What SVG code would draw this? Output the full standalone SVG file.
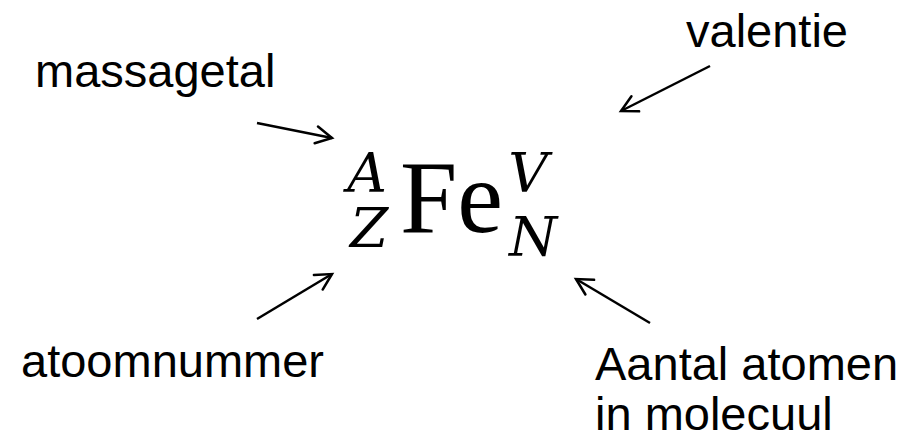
<svg xmlns="http://www.w3.org/2000/svg" width="910" height="440" viewBox="0 0 910 440">
<style>
.lbl{font-family:"Liberation Sans",Arial,sans-serif;font-size:47px;fill:#000}
.sym{font-family:"Liberation Serif","Times New Roman",serif;fill:#000}
.it{font-family:"DejaVu Serif",serif;font-style:italic;font-size:55px;fill:#000}
.arr{stroke:#000;stroke-width:2.5;fill:none;marker-end:url(#ah)}
</style>
<defs>
<marker id="ah" markerUnits="userSpaceOnUse" orient="auto" refX="0" refY="0" markerWidth="40" markerHeight="40" overflow="visible">
<path d="M-16,-8.5 L0,0 L-16,8.5" fill="none" stroke="#000" stroke-width="2.5" stroke-linecap="round" stroke-linejoin="miter"/>
</marker>
</defs>
<rect width="910" height="440" fill="#fff"/>
<g id="formula">
<text class="it" x="367" y="192" text-anchor="middle">A</text>
<text class="it" x="369" y="247" text-anchor="middle">Z</text>
<text class="sym" x="400" y="232" font-size="103">Fe</text>
<text class="it" x="528" y="192" text-anchor="middle">V</text>
<text class="it" x="533" y="256" text-anchor="middle">N</text>
</g>
<g id="massagetal"><text class="lbl" x="35" y="87">massagetal</text></g>
<g id="valentie"><text class="lbl" x="686" y="47">valentie</text></g>
<g id="atoomnummer"><text class="lbl" x="21" y="377">atoomnummer</text></g>
<g id="aantal"><text class="lbl" x="595" y="380">Aantal atomen</text><text class="lbl" x="595" y="430">in molecuul</text></g>
<g id="connectors">
<line class="arr" x1="257" y1="123" x2="332" y2="138"/>
<line class="arr" x1="710" y1="66" x2="621" y2="111"/>
<line class="arr" x1="257" y1="319" x2="332" y2="274"/>
<line class="arr" x1="650" y1="323" x2="576" y2="279"/>
</g>
</svg>
